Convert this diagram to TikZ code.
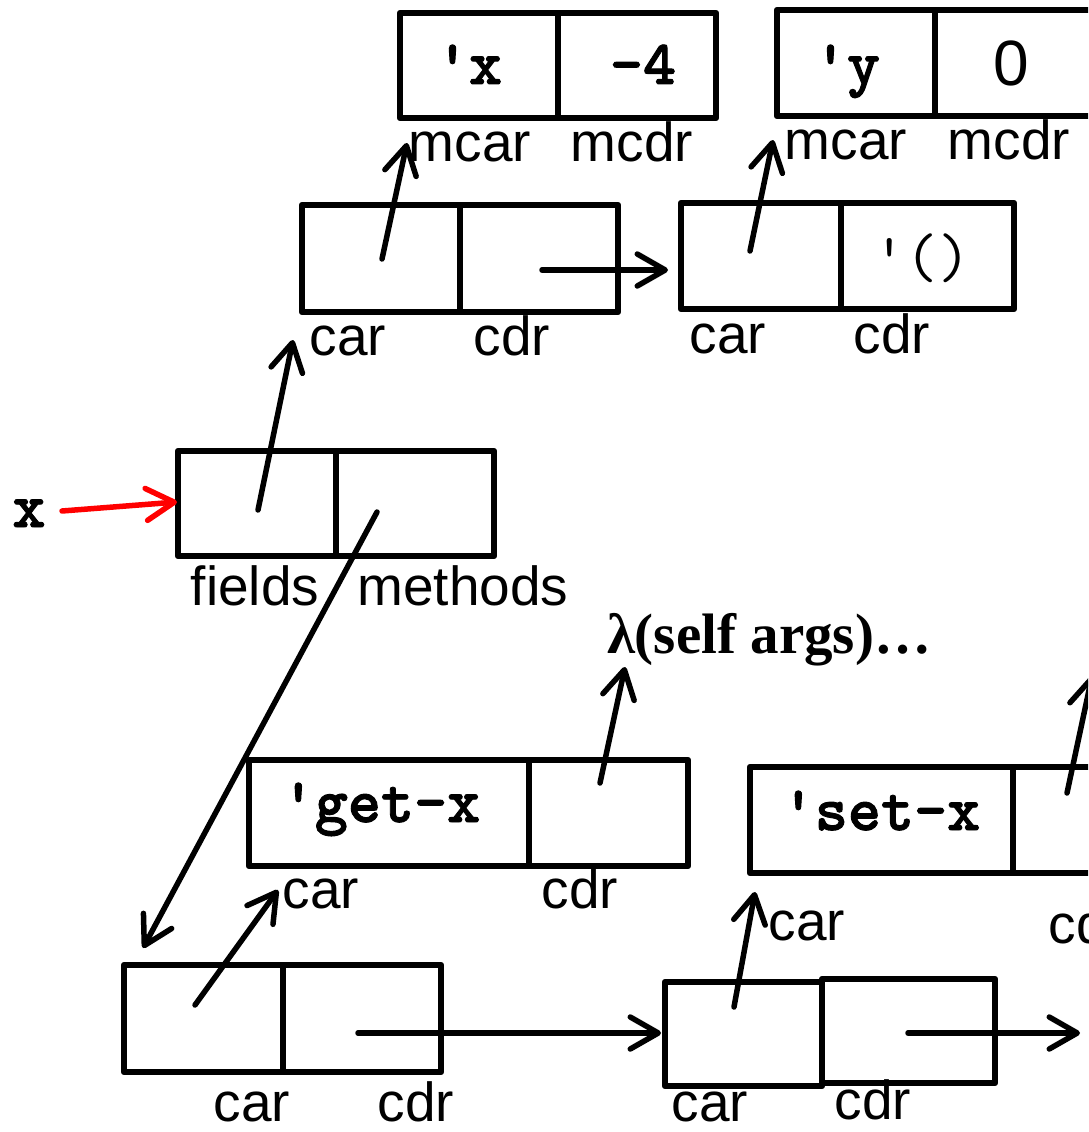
\documentclass[tikz,border=0pt]{standalone}
\usepackage{fontspec}
\usetikzlibrary{arrows.meta}
\newfontfamily\labfont{Liberation Sans}
\newfontfamily\lamfont{Liberation Serif}
\newfontfamily\codebold{lmmonolt10-bold.otf}[FakeBold=1.5]
\begin{document}
\begin{tikzpicture}[x=1pt,y=-1pt,
  cell/.style={draw, line width=6.5pt, inner sep=0pt, minimum height=106pt, line join=round},
  lbl/.style={font={\labfont\fontsize{55}{60}\selectfont}, anchor=base, inner sep=0pt},
  sym/.style={font={\codebold\fontsize{63}{66}\selectfont}, anchor=base, inner sep=0pt},
  ptr/.style={line width=5.5pt, line cap=round,
    -{Straight Barb[length=28pt,width=32pt,line cap=round,line join=round]}},
]
\useasboundingbox (0,0) rectangle (1088,1132);
\clip (0,0) rectangle (1088,1132);

% ---- top pairs (mcar / mcdr)
\node[cell, minimum width=158pt, minimum height=105pt] (A1) at (479,65.5) {};
\node[cell, minimum width=158pt, minimum height=105pt] (A2) at (637,65.5) {};
\node[sym] (tA1) at (469,84) {\textquotesingle x};
\node[sym] (tA2) at (643,84) {-4};
\node[cell, minimum width=158pt] (B1) at (856,63) {};
\node[cell, minimum width=160pt] (B2) at (1015,63) {};
\node[sym] (tB1) at (847,84) {\textquotesingle y};
\node[font={\labfont\fontsize{64}{66}\selectfont}, anchor=base, inner sep=0pt] (tB2) at (1011,85) {0};
\node[lbl] (lA1) at (470,161) {mcar};
\node[lbl] (lA2) at (632,161) {mcdr};
\node[lbl] (lB1) at (846,159) {mcar};
\node[lbl] (lB2) at (1009,159) {mcdr};

% ---- second row
\node[cell, minimum width=158pt, minimum height=107pt] (C1) at (381,258.5) {};
\node[cell, minimum width=158pt, minimum height=107pt] (C2) at (539,258.5) {};
\node[cell, minimum width=160pt] (D1) at (761,256) {};
\node[cell, minimum width=173pt] (D2) at (927.5,256) {};
\node[font={\ttfamily\fontsize{63}{66}\selectfont}, anchor=base, inner sep=0pt] (tD2) at (922,277) {\textquotesingle()};
\node[lbl] (lC1) at (348,355) {car};
\node[lbl] (lC2) at (512,355) {cdr};
\node[lbl] (lD1) at (728,353) {car};
\node[lbl] (lD2) at (892,353) {cdr};

% ---- object x
\node[cell, minimum width=158pt, minimum height=105pt] (E1) at (257,503.5) {};
\node[cell, minimum width=158pt, minimum height=105pt] (E2) at (415,503.5) {};
\node[lbl] (lE1) at (255,605) {fields};
\node[lbl] (lE2) at (463,605) {methods};
\node[sym] (xname) at (29,527) {x};

% ---- method entries
\node[font={\lamfont\bfseries\fontsize{57}{60}\selectfont}, anchor=base, inner sep=0pt] (lam) at (769,653) {λ(self args)…};
\node[cell, minimum width=280pt] (G1) at (389,813) {};
\node[cell, minimum width=159pt] (G2) at (608.5,813) {};
\node[sym] (tG1) at (381,822) {\textquotesingle get-x};
\node[lbl] (lG1) at (321,908) {car};
\node[lbl] (lG2) at (580,908) {cdr};
\node[cell, minimum width=263pt] (H1) at (881.5,820) {};
\node[cell, minimum width=162pt] (H2) at (1094,820) {};
\node[sym] (tH1) at (881,830) {\textquotesingle set-x};
\node[lbl] (lH1) at (807,940) {car};
\node[lbl] (lH2) at (1087,943) {cdr};

% ---- bottom list
\node[cell, minimum width=159pt, minimum height=107pt] (F1) at (203.5,1018.5) {};
\node[cell, minimum width=158pt, minimum height=107pt] (F2) at (362,1018.5) {};
\node[lbl] (lF1) at (252,1121) {car};
\node[lbl] (lF2) at (416,1121) {cdr};
\node[cell, minimum width=157pt, minimum height=104pt] (I1) at (743.5,1034) {};
\node[cell, minimum width=173pt, minimum height=104pt] (I2) at (908.5,1031) {};
\node[lbl] (lI1) at (710,1121) {car};
\node[lbl] (lI2) at (873,1119) {cdr};

% ---- pointer coordinates
\coordinate (pC1) at (382,259);   \coordinate (qC1) at (407,143);
\coordinate (pD1) at (750,251);   \coordinate (qD1) at (773,140);
\coordinate (pC2) at (542,270);   \coordinate (qC2) at (668,270);
\coordinate (pE1) at (258,510);   \coordinate (qE1) at (293,340);
\coordinate (px)  at (62,511);    \coordinate (qx)  at (177,502);
\coordinate (pE2) at (377,512);   \coordinate (qE2) at (143,948);
\coordinate (pG2) at (600,783);   \coordinate (qG2) at (625,667);
\coordinate (pH2) at (1067,793);  \coordinate (qH2) at (1092,676);
\coordinate (pF1) at (195,1005);  \coordinate (qF1) at (278,890);
\coordinate (pF2) at (358,1033);  \coordinate (qF2) at (661,1033);
\coordinate (pI1) at (734,1007);  \coordinate (qI1) at (755,892);
\coordinate (pI2) at (908,1033);  \coordinate (qI2) at (1080,1033);

\draw[ptr] (pC1) -- (qC1);
\draw[ptr] (pD1) -- (qD1);
\draw[ptr] (pC2) -- (qC2);
\draw[ptr] (pE1) -- (qE1);
\draw[ptr, red] (px) -- (qx);
\draw[ptr] (pE2) -- (qE2);
\draw[ptr] (pG2) -- (qG2);
\draw[ptr] (pH2) -- (qH2);
\draw[ptr] (pF1) -- (qF1);
\draw[ptr] (pF2) -- (qF2);
\draw[ptr] (pI1) -- (qI1);
\draw[ptr] (pI2) -- (qI2);
\end{tikzpicture}
\end{document}
